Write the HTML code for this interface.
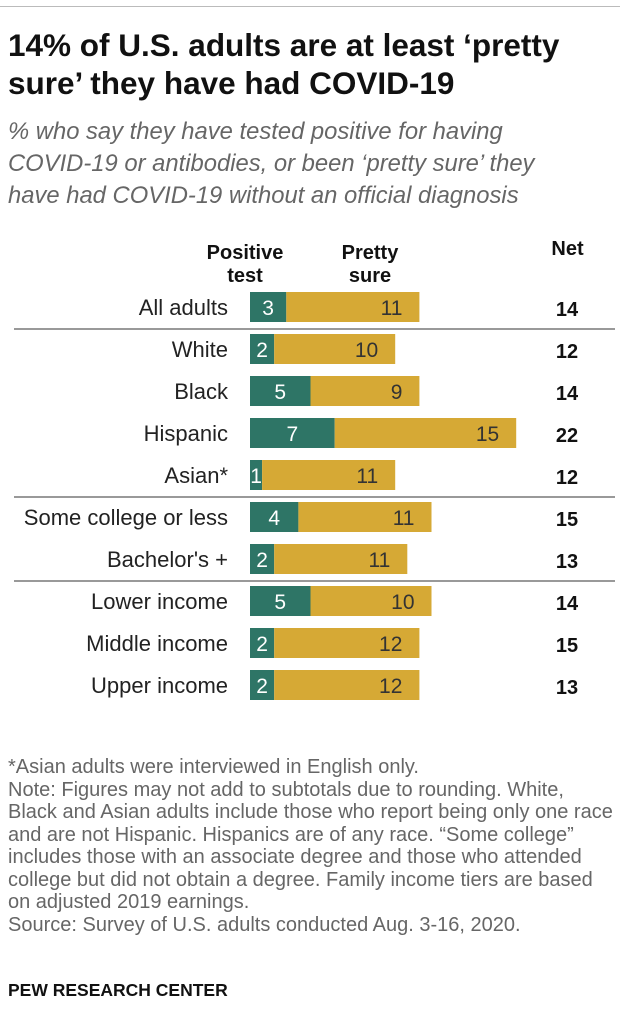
<!DOCTYPE html>
<html><head><meta charset="utf-8"><style>
body{margin:0;background:#fff;width:620px;height:1036px;overflow:hidden;font-family:"Liberation Sans",sans-serif;position:relative}
.abs{position:absolute;white-space:nowrap}
</style></head><body>
<div class="abs" style="left:0;top:6px;width:620px;height:1px;background:#bbb"></div>
<div class="abs" style="left:8px;top:26px;font-size:31.5px;font-weight:bold;line-height:38px;color:#111">14% of U.S. adults are at least ‘pretty<br>sure’ they have had COVID-19</div>
<div class="abs" style="left:8px;top:116px;font-size:23.8px;font-style:italic;line-height:32px;color:#666">% who say they have tested positive for having<br>COVID-19 or antibodies, or been ‘pretty sure’ they<br>have had COVID-19 without an official diagnosis</div>
<div class="abs" style="left:195px;top:242px;width:100px;text-align:center;font-size:20px;font-weight:bold;line-height:23px;color:#111">Positive<br>test</div>
<div class="abs" style="left:320px;top:242px;width:100px;text-align:center;font-size:20px;font-weight:bold;line-height:23px;color:#111">Pretty<br>sure</div>
<div class="abs" style="left:540px;top:238px;width:55px;text-align:center;font-size:20px;font-weight:bold;color:#111">Net</div>
<svg id="chart" class="abs" style="left:0;top:0" width="620" height="720"></svg>
<div class="abs" style="left:8px;top:756px;font-size:20px;line-height:22.5px;color:#666">*Asian adults were interviewed in English only.<br>Note: Figures may not add to subtotals due to rounding. White,<br>Black and Asian adults include those who report being only one race<br>and are not Hispanic. Hispanics are of any race. “Some college”<br>includes those with an associate degree and those who attended<br>college but did not obtain a degree. Family income tiers are based<br>on adjusted 2019 earnings.<br>Source: Survey of U.S. adults conducted Aug. 3-16, 2020.</div>
<div class="abs" style="left:8px;top:980px;font-size:17.5px;font-weight:bold;color:#111">PEW RESEARCH CENTER</div>
<script>
const categories=["All adults","White","Black","Hispanic","Asian*","Some college or less","Bachelor's +","Lower income","Middle income","Upper income"];
const positive=[3,2,5,7,1,4,2,5,2,2];
const prettySure=[11,10,9,15,11,11,11,10,12,12];
const net=[14,12,14,22,12,15,13,14,15,13];
const separatorsAfter=[0,4,6];
const NS="http://www.w3.org/2000/svg";
const svg=document.getElementById('chart');
const x0=250,scale=12.1,rowTop=292,rowStep=42,barH=30;
const xs=v=>v*scale;
const yr=i=>rowTop+i*rowStep;
function mk(tag,attrs){const e=document.createElementNS(NS,tag);for(const k in attrs)e.setAttribute(k,attrs[k]);svg.appendChild(e);return e;}
categories.forEach((c,i)=>{
  const y=yr(i);
  const l=mk('text',{x:228,y:y+23,'text-anchor':'end','font-size':22,fill:'#222','font-family':'Liberation Sans'});
  l.textContent=c;
  
  
  const g=mk('rect',{x:x0,y:y,width:xs(positive[i]),height:barH,fill:'#2e7566'});
  
  
  const o=mk('rect',{x:x0+xs(positive[i]),y:y,width:xs(prettySure[i]),height:barH,fill:'#d6a935'});
  
  
  const gt=mk('text',{x:x0+Math.max(xs(positive[i])/2,5),y:y+23,'text-anchor':'middle','font-size':21,fill:'#fff','font-family':'Liberation Sans'});
  gt.textContent=positive[i];
  
  
  const ot=mk('text',{x:x0+xs(positive[i])+xs(prettySure[i])-17,y:y+23,'text-anchor':'end','font-size':21,fill:'#333','font-family':'Liberation Sans'});
  ot.textContent=prettySure[i];
  
  
  const nt=mk('text',{x:567,y:y+24,'text-anchor':'middle','font-size':20,'font-weight':'bold',fill:'#111','font-family':'Liberation Sans'});
  nt.textContent=net[i];
  
  
});
separatorsAfter.forEach(i=>{
  const y=yr(i)+barH+7;
  const s=mk('line',{x1:14,x2:615,y1:y,y2:y,stroke:'#999','stroke-width':2});
  
  
});
</script>
</body></html>
